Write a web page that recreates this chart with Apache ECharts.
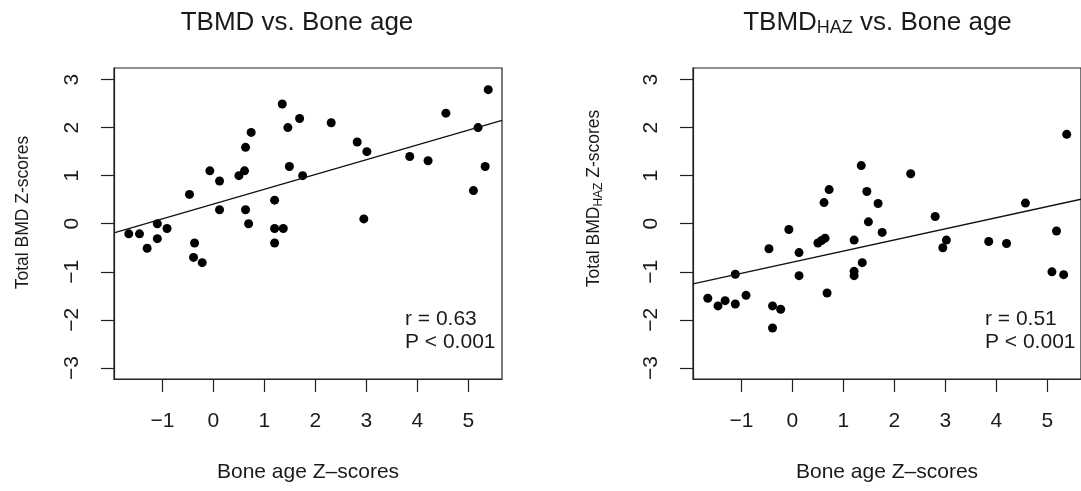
<!DOCTYPE html>
<html>
<head>
<meta charset="utf-8">
<script src="https://cdn.jsdelivr.net/npm/echarts@6/dist/echarts.min.js"></script>
<style>
  html, body { margin: 0; padding: 0; background: #fff; }
  #chart { width: 1081px; height: 491px; }
</style>
</head>
<body>
<div id="chart"></div>
<script>
// ---- Data ----
const xTicks = [-1, 0, 1, 2, 3, 4, 5];
const yTicks = [-3, -2, -1, 0, 1, 2, 3];
const xRange = [-1.95, 5.66];
const yRange = [-3.23, 3.24];

// Left panel: TBMD vs. Bone age
const boneAgeA = [-1.66, -1.45, -1.30, -1.10, -1.10, -0.91, -0.47, -0.37, -0.39, -0.22,
                  -0.07, 0.12, 0.12, 0.50, 0.61, 0.63, 0.74, 0.63, 0.69, 1.20,
                  1.20, 1.37, 1.20, 1.35, 1.46, 1.69, 1.49, 1.75, 2.31, 2.82,
                  3.01, 2.95, 3.85, 4.21, 4.56, 5.19, 5.10, 5.33, 5.39];
const tbmd = [-0.21, -0.21, -0.51, 0.00, -0.31, -0.10, 0.61, -0.40, -0.70, -0.81,
              1.10, 0.89, 0.29, 1.00, 1.10, 1.59, 1.90, 0.29, 0.00, 0.49,
              -0.10, -0.10, -0.40, 2.49, 2.00, 2.19, 1.19, 1.00, 2.10, 1.70,
              1.50, 0.10, 1.40, 1.31, 2.30, 2.00, 0.69, 1.19, 2.79];
const fitXA = [-1.95, 5.66];
const fitYA = [-0.19, 2.15];

// Right panel: TBMD_HAZ vs. Bone age
const boneAgeB = [-1.66, -1.46, -1.32, -1.12, -1.12, -0.91, -0.46, -0.39, -0.23, -0.39,
                  -0.07, 0.13, 0.13, 0.50, 0.57, 0.64, 0.62, 0.72, 0.68, 1.21,
                  1.21, 1.21, 1.37, 1.35, 1.46, 1.49, 1.68, 1.76, 2.32, 2.80,
                  2.95, 3.02, 3.85, 4.20, 4.57, 5.09, 5.18, 5.32, 5.38];
const tbmdHaz = [-1.55, -1.71, -1.60, -1.67, -1.05, -1.49, -0.52, -1.71, -1.78, -2.17,
                 -0.12, -0.60, -1.08, -0.40, -0.35, -0.30, 0.44, 0.71, -1.44, -0.34,
                 -0.99, -1.08, -0.81, 1.21, 0.67, 0.04, 0.42, -0.18, 1.04, 0.15,
                 -0.50, -0.34, -0.37, -0.41, 0.43, -1.00, -0.15, -1.06, 1.86];
const fitXB = [-1.95, 5.66];
const fitYB = [-1.25, 0.51];

const statsA = ['r = 0.63', 'P < 0.001'];
const statsB = ['r = 0.51', 'P < 0.001'];

// ---- Chart ----
const FONT = "'Liberation Sans', Arial, Helvetica, sans-serif";
const TXT = '#1a1a1a';
const LINE = '#222';

const zip = (xs, ys) => xs.map((x, i) => [x, ys[i]]);
const fmt = v => (v < 0 ? '\u2212' + Math.abs(v) : String(v));

function xAxisFor(gi) {
  return {
    gridIndex: gi, type: 'value', min: xRange[0], max: xRange[1],
    name: 'Bone age Z\u2013scores', nameLocation: 'middle', nameGap: 83,
    nameTextStyle: { fontSize: 21, fontFamily: FONT, color: TXT },
    axisLine: { show: true, onZero: false, lineStyle: { color: LINE, width: 1.2 } },
    axisTick: { show: true, length: 13, customValues: xTicks, lineStyle: { color: LINE, width: 1.2 } },
    axisLabel: { customValues: xTicks, margin: 32, fontSize: 21, fontFamily: FONT, color: TXT, formatter: fmt },
    splitLine: { show: false }
  };
}
function yAxisFor(gi, margin) {
  return {
    gridIndex: gi, type: 'value', min: yRange[0], max: yRange[1],
    axisLine: { show: true, onZero: false, lineStyle: { color: LINE, width: 1.2 } },
    axisTick: { show: true, length: 13, customValues: yTicks, lineStyle: { color: LINE, width: 1.2 } },
    axisLabel: { customValues: yTicks, rotate: 90, margin: margin, fontSize: 21, fontFamily: FONT, color: TXT, formatter: fmt },
    splitLine: { show: false }
  };
}
function textEl(x, y, text, size, align) {
  return {
    type: 'text', x: x, y: y, silent: true,
    style: {
      text: text, fontSize: size, fontFamily: FONT, fill: TXT,
      align: align, textAlign: align, verticalAlign: 'middle', textVerticalAlign: 'middle'
    }
  };
}

const chart = echarts.init(document.getElementById('chart'), null, { renderer: 'canvas' });
chart.setOption({
  animation: false,
  backgroundColor: '#fff',
  grid: [
    { left: 114, top: 68, width: 388, height: 311, show: true, borderColor: LINE, borderWidth: 1.2, backgroundColor: 'transparent' },
    { left: 693, top: 68, width: 389, height: 311, show: true, borderColor: LINE, borderWidth: 1.2, backgroundColor: 'transparent' }
  ],
  xAxis: [xAxisFor(0), xAxisFor(1)],
  yAxis: [yAxisFor(0, 31), yAxisFor(1, 31)],
  series: [
    { type: 'scatter', xAxisIndex: 0, yAxisIndex: 0, data: zip(boneAgeA, tbmd),
      symbol: 'circle', symbolSize: 9, itemStyle: { color: '#000', opacity: 1 } },
    { type: 'line', xAxisIndex: 0, yAxisIndex: 0, data: zip(fitXA, fitYA),
      symbol: 'none', lineStyle: { color: '#111', width: 1.3 } },
    { type: 'scatter', xAxisIndex: 1, yAxisIndex: 1, data: zip(boneAgeB, tbmdHaz),
      symbol: 'circle', symbolSize: 9, itemStyle: { color: '#000', opacity: 1 } },
    { type: 'line', xAxisIndex: 1, yAxisIndex: 1, data: zip(fitXB, fitYB),
      symbol: 'none', lineStyle: { color: '#111', width: 1.3 } }
  ],
  graphic: [
    textEl(297, 22.5, 'TBMD vs. Bone age', 26, 'center'),
    {
      type: 'text', x: 877.5, y: 22.5, silent: true,
      style: {
        text: '{m|TBMD}{s|HAZ}{m| vs. Bone age}',
        fill: TXT, align: 'center', textAlign: 'center', verticalAlign: 'middle', textVerticalAlign: 'middle',
        rich: {
          m: { fontSize: 26, fontFamily: FONT, lineHeight: 30, fill: TXT, color: TXT },
          s: { fontSize: 18, fontFamily: FONT, lineHeight: 10, verticalAlign: 'bottom', fill: TXT, color: TXT }
        }
      }
    },
    Object.assign(textEl(23.3, 212.5, 'Total BMD Z-scores', 17.5, 'center'), { rotation: Math.PI / 2 }),
    {
      type: 'text', x: 594, y: 198.5, rotation: Math.PI / 2, silent: true,
      style: {
        text: '{m|Total BMD}{s|HAZ}{m| Z-scores}',
        fill: TXT, align: 'center', textAlign: 'center', verticalAlign: 'middle', textVerticalAlign: 'middle',
        rich: {
          m: { fontSize: 17.5, fontFamily: FONT, lineHeight: 21, fill: TXT, color: TXT },
          s: { fontSize: 12, fontFamily: FONT, lineHeight: 8, verticalAlign: 'bottom', fill: TXT, color: TXT }
        }
      }
    },
    textEl(405, 319.7, statsA[0], 21, 'left'),
    textEl(405, 342, statsA[1], 21, 'left'),
    textEl(985, 319.7, statsB[0], 21, 'left'),
    textEl(985, 342, statsB[1], 21, 'left')
  ]
});
</script>
</body>
</html>
